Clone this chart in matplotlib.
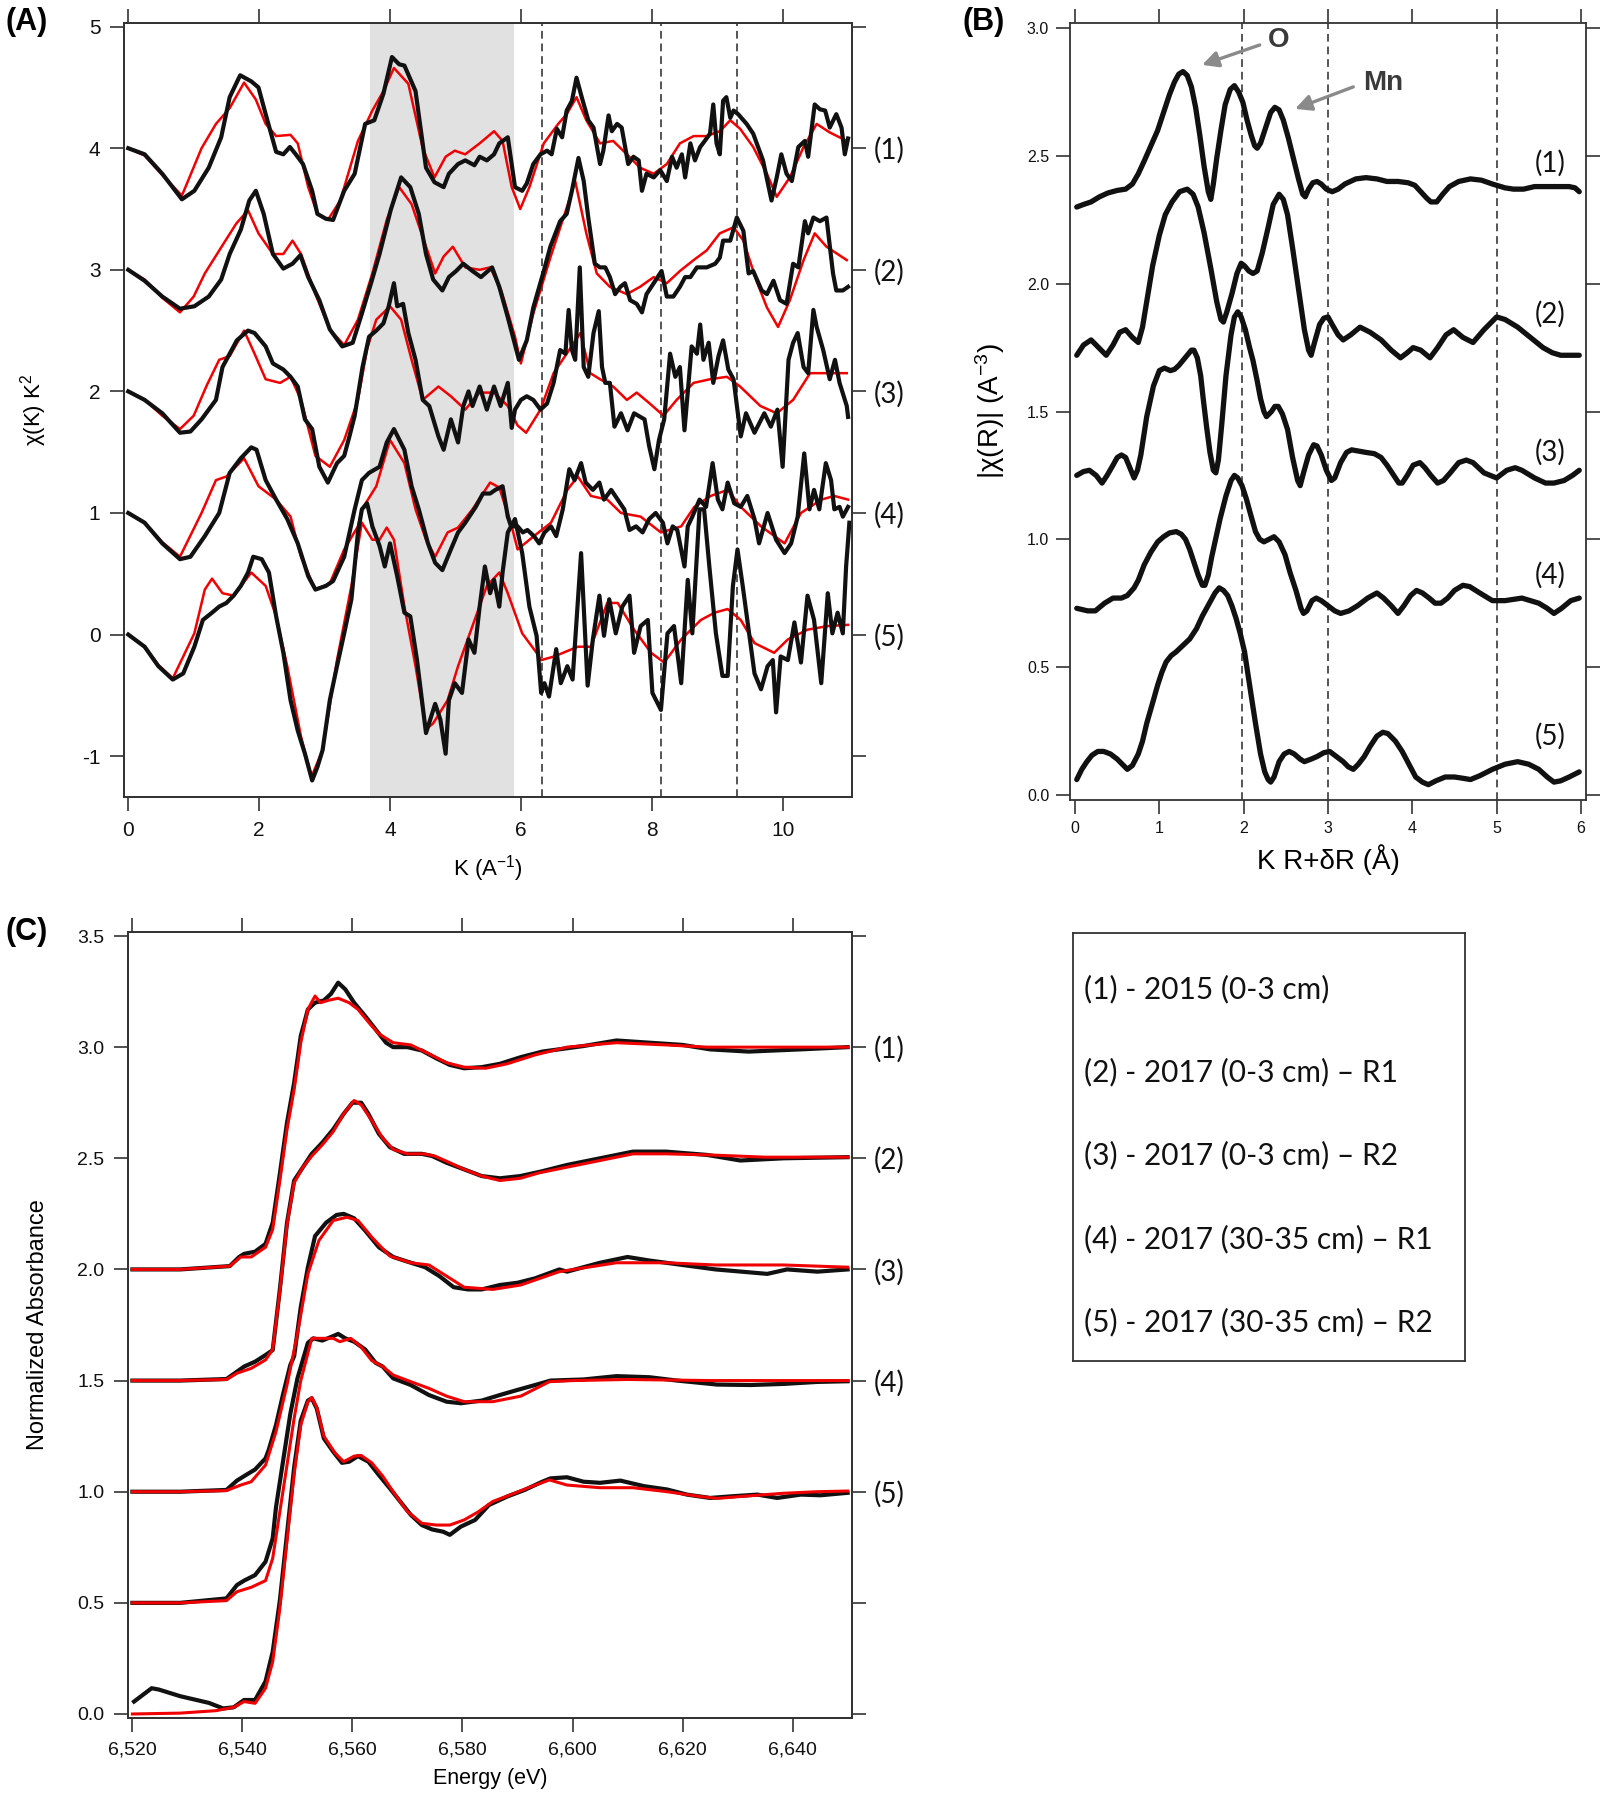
import numpy as np
import matplotlib
matplotlib.use("Agg")
import matplotlib.pyplot as plt

plt.rcParams['font.family'] = ['Liberation Sans', 'DejaVu Sans']
plt.rcParams['mathtext.fontset'] = 'custom'
plt.rcParams['mathtext.rm'] = 'Liberation Sans'
plt.rcParams['mathtext.it'] = 'Liberation Sans:italic'
plt.rcParams['mathtext.bf'] = 'Liberation Sans:bold'

# ---------------- Panel A : chi(k) k^2 (black = data, red = fit) ----------------
A1_black = [(0,4.0),(0.25,3.95),(0.52,3.79),(0.82,3.58),(1.01,3.65),(1.23,3.84),(1.42,4.09),(1.55,4.42),(1.71,4.6),(1.88,4.55),(1.99,4.5),(2.1,4.28),(2.26,3.97),(2.37,3.95),(2.47,4.01),(2.56,3.95),(2.67,3.87),(2.81,3.65),(2.89,3.46),(3.02,3.42),(3.13,3.41),(3.3,3.65),(3.46,3.79),(3.62,4.2),(3.76,4.23),(3.9,4.45),(4.03,4.75),(4.14,4.69),(4.22,4.68),(4.39,4.47),(4.55,3.84),(4.68,3.72),(4.82,3.68),(4.9,3.79),(5.04,3.87),(5.15,3.9),(5.29,3.86),(5.37,3.93),(5.48,3.9),(5.59,3.95),(5.67,4.04),(5.8,4.09),(5.91,3.68),(6.02,3.65),(6.09,3.71),(6.19,3.87),(6.3,3.95),(6.4,3.98),(6.47,3.95),(6.55,4.16),(6.63,4.09),(6.7,4.31),(6.78,4.39),(6.85,4.58),(6.93,4.42),(7.03,4.23),(7.11,4.17),(7.21,3.87),(7.26,3.98),(7.34,4.27),(7.39,4.14),(7.47,4.2),(7.54,4.17),(7.64,3.87),(7.72,3.93),(7.8,3.9),(7.85,3.65),(7.92,3.79),(8.03,3.76),(8.13,3.82),(8.23,3.73),(8.31,3.93),(8.38,3.84),(8.46,3.95),(8.51,3.76),(8.59,4.04),(8.66,3.9),(8.74,4.01),(8.81,4.06),(8.89,4.12),(8.94,4.36),(8.99,4.04),(9.04,3.95),(9.09,4.39),(9.14,4.42),(9.2,4.25),(9.25,4.31),(9.32,4.28),(9.45,4.2),(9.55,4.12),(9.7,3.9),(9.83,3.57),(9.91,3.76),(9.98,3.95),(10.06,3.79),(10.14,3.73),(10.24,4.01),(10.34,4.06),(10.39,3.93),(10.49,4.36),(10.57,4.32),(10.65,4.31),(10.72,4.17),(10.82,4.28),(10.9,4.17),(10.95,3.95),(11.0,4.08)]
A1_red = [(0,4.0),(0.25,3.94),(0.52,3.78),(0.82,3.61),(1.12,4.0),(1.34,4.2),(1.55,4.33),(1.77,4.54),(1.95,4.4),(2.1,4.2),(2.26,4.1),(2.48,4.11),(2.59,4.04),(2.75,3.68),(2.89,3.46),(3.05,3.41),(3.24,3.57),(3.51,4.06),(3.73,4.31),(3.9,4.47),(4.06,4.66),(4.28,4.53),(4.5,4.0),(4.68,3.76),(4.85,3.93),(4.99,3.98),(5.15,3.95),(5.37,4.04),(5.59,4.14),(5.72,4.06),(5.86,3.68),(5.99,3.5),(6.13,3.68),(6.35,4.04),(6.57,4.2),(6.7,4.28),(6.85,4.42),(7.0,4.23),(7.21,4.04),(7.41,4.06),(7.62,3.95),(7.82,3.84),(8.03,3.79),(8.23,3.87),(8.43,4.04),(8.64,4.1),(8.84,4.1),(9.04,4.14),(9.2,4.23),(9.35,4.16),(9.55,4.01),(9.76,3.79),(9.91,3.6),(10.11,3.76),(10.32,4.01),(10.52,4.2),(10.72,4.13),(10.98,4.06)]

A2_black = [(0,3.0),(0.25,2.91),(0.52,2.78),(0.79,2.68),(1.01,2.7),(1.23,2.78),(1.42,2.92),(1.55,3.13),(1.72,3.33),(1.85,3.57),(1.95,3.65),(2.07,3.46),(2.21,3.13),(2.37,3.01),(2.51,3.05),(2.63,3.12),(2.75,2.94),(2.92,2.75),(3.08,2.51),(3.27,2.37),(3.43,2.4),(3.57,2.64),(3.71,2.89),(3.84,3.13),(4.01,3.49),(4.17,3.76),(4.31,3.68),(4.44,3.46),(4.55,3.13),(4.66,2.92),(4.8,2.83),(4.9,2.94),(5.01,2.99),(5.12,3.05),(5.26,2.99),(5.39,2.94),(5.56,3.02),(5.67,2.86),(5.8,2.61),(5.97,2.26),(6.09,2.42),(6.19,2.69),(6.35,2.99),(6.45,3.19),(6.6,3.4),(6.7,3.46),(6.78,3.65),(6.88,3.92),(6.96,3.73),(7.03,3.43),(7.13,3.05),(7.21,3.02),(7.29,3.02),(7.36,2.94),(7.44,2.8),(7.52,2.86),(7.59,2.89),(7.67,2.75),(7.77,2.72),(7.85,2.65),(7.92,2.8),(8.03,2.89),(8.15,2.99),(8.23,2.78),(8.33,2.78),(8.43,2.86),(8.51,2.94),(8.59,2.94),(8.69,3.02),(8.84,3.02),(8.97,3.05),(9.04,3.1),(9.09,3.24),(9.2,3.24),(9.3,3.43),(9.4,3.32),(9.48,2.97),(9.55,2.99),(9.68,2.83),(9.76,2.8),(9.86,2.91),(9.96,2.75),(10.06,2.72),(10.16,3.05),(10.24,3.02),(10.34,3.4),(10.39,3.3),(10.47,3.43),(10.57,3.4),(10.67,3.43),(10.77,2.97),(10.82,2.83),(10.92,2.83),(11.0,2.86)]
A2_red = [(0,3.0),(0.25,2.92),(0.52,2.77),(0.79,2.65),(1.0,2.78),(1.17,2.97),(1.45,3.21),(1.65,3.38),(1.83,3.49),(1.99,3.3),(2.21,3.13),(2.37,3.13),(2.51,3.24),(2.64,3.13),(2.86,2.8),(3.08,2.51),(3.3,2.38),(3.51,2.59),(3.73,2.97),(3.95,3.41),(4.14,3.68),(4.33,3.54),(4.5,3.27),(4.69,2.97),(4.82,3.11),(4.96,3.19),(5.15,3.02),(5.37,3.0),(5.53,3.02),(5.7,2.83),(5.91,2.45),(6.0,2.23),(6.19,2.64),(6.45,3.1),(6.7,3.51),(6.83,3.73),(7.0,3.3),(7.16,2.97),(7.36,2.86),(7.62,2.8),(7.82,2.86),(8.03,2.94),(8.23,2.89),(8.43,2.99),(8.64,3.08),(8.84,3.16),(9.04,3.3),(9.25,3.35),(9.4,3.24),(9.6,2.91),(9.76,2.69),(9.93,2.53),(10.11,2.75),(10.32,3.08),(10.49,3.3),(10.67,3.19),(10.98,3.08)]

A3_black = [(0,2.0),(0.25,1.93),(0.52,1.82),(0.79,1.66),(0.95,1.67),(1.12,1.77),(1.34,1.93),(1.44,2.2),(1.66,2.42),(1.83,2.5),(1.93,2.48),(2.1,2.37),(2.21,2.23),(2.37,2.18),(2.48,2.12),(2.59,2.04),(2.7,1.77),(2.81,1.69),(2.92,1.38),(3.05,1.25),(3.19,1.41),(3.3,1.47),(3.38,1.63),(3.46,1.8),(3.58,2.2),(3.68,2.45),(3.79,2.5),(3.9,2.56),(3.98,2.7),(4.06,2.89),(4.11,2.7),(4.2,2.72),(4.28,2.48),(4.39,2.26),(4.5,1.93),(4.6,1.88),(4.74,1.63),(4.82,1.52),(4.93,1.77),(5.04,1.58),(5.12,1.88),(5.2,2.0),(5.26,1.88),(5.37,2.04),(5.48,1.85),(5.59,2.04),(5.69,1.88),(5.8,2.07),(5.86,1.7),(5.91,1.85),(6.0,1.93),(6.09,1.96),(6.19,1.93),(6.3,1.85),(6.4,1.9),(6.5,2.07),(6.6,2.34),(6.68,2.31),(6.73,2.67),(6.78,2.34),(6.83,2.26),(6.9,3.02),(6.96,2.2),(7.03,2.12),(7.11,2.48),(7.19,2.66),(7.24,2.2),(7.29,2.07),(7.36,2.07),(7.43,1.71),(7.53,1.82),(7.63,1.68),(7.73,1.82),(7.89,1.77),(7.96,1.55),(8.04,1.36),(8.11,1.6),(8.19,1.77),(8.28,2.31),(8.36,2.12),(8.43,2.2),(8.5,1.68),(8.61,2.37),(8.69,2.31),(8.74,2.55),(8.79,2.26),(8.87,2.4),(8.94,2.07),(9.02,2.29),(9.09,2.42),(9.17,2.18),(9.25,2.1),(9.36,1.63),(9.44,1.82),(9.57,1.66),(9.72,1.82),(9.82,1.71),(9.92,1.85),(10.0,1.38),(10.09,2.26),(10.16,2.4),(10.23,2.48),(10.32,2.2),(10.39,2.15),(10.47,2.67),(10.52,2.53),(10.62,2.34),(10.72,2.1),(10.8,2.26),(10.87,2.07),(10.98,1.88),(11.0,1.79)]
A3_red = [(0,2.0),(0.25,1.93),(0.52,1.8),(0.79,1.69),(1.0,1.8),(1.2,2.05),(1.39,2.26),(1.55,2.29),(1.77,2.5),(1.93,2.31),(2.1,2.1),(2.32,2.07),(2.48,2.12),(2.64,1.93),(2.86,1.47),(3.08,1.38),(3.3,1.6),(3.51,1.93),(3.65,2.35),(3.79,2.59),(4.0,2.7),(4.17,2.59),(4.33,2.26),(4.5,1.93),(4.74,2.04),(4.93,1.96),(5.15,1.85),(5.37,1.99),(5.59,1.99),(5.8,1.88),(5.95,1.72),(6.08,1.66),(6.3,1.85),(6.5,2.15),(6.7,2.31),(6.91,2.48),(7.06,2.15),(7.21,2.1),(7.41,2.04),(7.62,1.93),(7.77,1.99),(7.97,1.9),(8.18,1.8),(8.38,1.93),(8.64,2.07),(8.89,2.1),(9.15,2.12),(9.35,2.04),(9.66,1.88),(9.91,1.82),(10.16,1.93),(10.42,2.15),(10.62,2.15),(10.98,2.15)]

A4_black = [(0,1.0),(0.25,0.92),(0.52,0.75),(0.79,0.62),(0.95,0.64),(1.17,0.81),(1.39,1.0),(1.55,1.33),(1.72,1.45),(1.88,1.54),(1.96,1.52),(2.1,1.27),(2.26,1.11),(2.43,0.95),(2.59,0.75),(2.75,0.48),(2.86,0.37),(3.02,0.4),(3.13,0.44),(3.3,0.64),(3.46,1.03),(3.57,1.27),(3.68,1.33),(3.84,1.38),(3.95,1.58),(4.06,1.69),(4.22,1.52),(4.33,1.22),(4.44,1.03),(4.58,0.75),(4.69,0.59),(4.8,0.53),(4.93,0.7),(5.04,0.84),(5.15,0.92),(5.31,1.05),(5.42,1.16),(5.53,1.16),(5.61,1.19),(5.72,1.22),(5.8,0.97),(5.85,0.89),(5.95,0.89),(6.03,0.84),(6.1,0.86),(6.2,0.81),(6.28,0.75),(6.36,0.84),(6.46,0.89),(6.54,0.81),(6.64,1.03),(6.74,1.36),(6.82,1.27),(6.92,1.41),(6.99,1.25),(7.1,1.19),(7.2,1.25),(7.27,1.11),(7.38,1.19),(7.48,1.11),(7.58,1.03),(7.66,0.86),(7.76,0.89),(7.86,0.84),(7.96,0.95),(8.06,1.0),(8.17,0.92),(8.24,0.75),(8.32,0.89),(8.39,0.86),(8.5,0.56),(8.55,0.89),(8.62,0.97),(8.73,1.11),(8.83,1.05),(8.93,1.41),(9.01,1.11),(9.08,1.03),(9.16,1.25),(9.26,1.08),(9.36,1.05),(9.46,1.14),(9.57,0.95),(9.64,0.75),(9.77,1.0),(9.9,0.78),(10.03,0.67),(10.13,0.75),(10.23,0.97),(10.33,1.49),(10.41,1.03),(10.48,1.19),(10.56,1.03),(10.66,1.41),(10.74,1.27),(10.79,1.03),(10.87,1.05),(10.92,0.97),(11.0,1.05)]
A4_red = [(0,1.0),(0.25,0.92),(0.52,0.76),(0.79,0.64),(1.12,1.0),(1.34,1.27),(1.5,1.3),(1.77,1.45),(1.99,1.22),(2.26,1.11),(2.48,0.97),(2.64,0.64),(2.86,0.37),(3.08,0.42),(3.3,0.7),(3.51,0.89),(3.57,1.03),(3.79,1.22),(4.0,1.6),(4.22,1.41),(4.39,1.03),(4.55,0.78),(4.69,0.64),(4.88,0.84),(5.04,0.88),(5.26,1.03),(5.53,1.25),(5.67,1.21),(5.86,0.89),(5.95,0.7),(6.2,0.81),(6.46,0.92),(6.71,1.19),(6.87,1.3),(7.07,1.14),(7.32,1.11),(7.53,1.0),(7.83,0.97),(8.14,0.84),(8.45,0.89),(8.65,1.05),(8.9,1.14),(9.16,1.19),(9.36,1.05),(9.67,0.89),(10.03,0.75),(10.28,1.0),(10.59,1.11),(10.79,1.14),(11.0,1.11)]

A5_black = [(0,0.0),(0.25,-0.1),(0.46,-0.26),(0.68,-0.37),(0.84,-0.32),(1.01,-0.1),(1.14,0.12),(1.28,0.18),(1.39,0.23),(1.5,0.26),(1.61,0.32),(1.72,0.4),(1.83,0.51),(1.91,0.64),(2.04,0.62),(2.15,0.51),(2.26,0.15),(2.37,-0.15),(2.48,-0.54),(2.59,-0.79),(2.7,-0.98),(2.81,-1.2),(2.89,-1.09),(2.97,-0.95),(3.08,-0.54),(3.19,-0.26),(3.3,0.01),(3.41,0.29),(3.51,0.84),(3.57,1.03),(3.65,1.08),(3.73,0.89),(3.84,0.73),(3.92,0.56),(4.0,0.75),(4.11,0.48),(4.22,0.18),(4.31,0.15),(4.41,-0.2),(4.55,-0.81),(4.69,-0.57),(4.77,-0.7),(4.85,-0.98),(4.9,-0.54),(4.99,-0.4),(5.1,-0.48),(5.2,-0.04),(5.29,-0.15),(5.37,0.23),(5.45,0.56),(5.53,0.34),(5.59,0.45),(5.67,0.23),(5.72,0.51),(5.8,0.84),(5.91,0.95),(6.02,0.67),(6.13,0.23),(6.24,-0.01),(6.31,-0.48),(6.36,-0.4),(6.43,-0.51),(6.54,-0.12),(6.61,-0.4),(6.71,-0.26),(6.79,-0.37),(6.92,0.67),(7.02,-0.42),(7.1,-0.04),(7.2,0.32),(7.27,-0.01),(7.35,0.29),(7.45,0.01),(7.55,0.23),(7.66,0.32),(7.73,-0.15),(7.83,0.07),(7.94,0.12),(8.01,-0.48),(8.14,-0.62),(8.24,0.01),(8.34,0.07),(8.45,-0.4),(8.55,0.45),(8.62,0.01),(8.73,1.03),(8.8,1.03),(8.88,0.56),(8.98,0.01),(9.08,-0.34),(9.16,-0.34),(9.24,0.4),(9.31,0.7),(9.39,0.4),(9.46,0.12),(9.57,-0.32),(9.67,-0.45),(9.77,-0.26),(9.85,-0.21),(9.9,-0.64),(9.97,-0.18),(10.08,-0.21),(10.18,0.1),(10.28,-0.23),(10.38,0.32),(10.48,0.12),(10.59,-0.4),(10.69,0.34),(10.76,0.01),(10.84,0.18),(10.92,0.01),(10.97,0.56),(11.02,0.92)]
A5_red = [(0,0.0),(0.25,-0.1),(0.46,-0.25),(0.68,-0.36),(1.01,0.01),(1.17,0.37),(1.28,0.46),(1.44,0.34),(1.61,0.32),(1.88,0.51),(2.1,0.4),(2.26,0.15),(2.43,-0.26),(2.64,-0.84),(2.8,-1.17),(2.97,-0.95),(3.19,-0.21),(3.41,0.4),(3.57,0.92),(3.73,0.78),(3.84,0.78),(3.95,0.88),(4.06,0.78),(4.22,0.23),(4.39,-0.26),(4.55,-0.78),(4.66,-0.73),(4.88,-0.54),(5.04,-0.26),(5.26,0.07),(5.48,0.4),(5.67,0.51),(5.8,0.34),(6.02,0.01),(6.24,-0.15),(6.31,-0.21),(6.51,-0.18),(6.87,-0.1),(7.07,-0.1),(7.32,0.26),(7.48,0.26),(7.73,0.04),(7.99,-0.15),(8.19,-0.23),(8.45,-0.04),(8.75,0.12),(8.96,0.18),(9.16,0.21),(9.36,0.12),(9.57,-0.07),(9.87,-0.15),(10.08,-0.04),(10.38,0.04),(10.69,0.07),(11.0,0.08)]

A_black = [A1_black, A2_black, A3_black, A4_black, A5_black]
A_red = [A1_red, A2_red, A3_red, A4_red, A5_red]
A_shade = (3.7, 5.9)
A_dashed = [6.32, 8.14, 9.31]
A_yticks = [5, 4, 3, 2, 1, 0, -1]
A_right_labels = ['', '(1)', '(2)', '(3)', '(4)', '(5)', '']

# ---------------- Panel B : |chi(R)| ----------------
B1 = [(0.02,2.30),(0.1,2.31),(0.19,2.32),(0.29,2.34),(0.39,2.355),(0.5,2.365),(0.6,2.37),(0.68,2.39),(0.75,2.43),(0.82,2.48),(0.9,2.54),(0.98,2.6),(1.05,2.67),(1.12,2.74),(1.18,2.79),(1.23,2.82),(1.28,2.83),(1.33,2.815),(1.38,2.77),(1.43,2.69),(1.48,2.58),(1.53,2.46),(1.58,2.36),(1.61,2.33),(1.64,2.39),(1.68,2.49),(1.73,2.6),(1.78,2.7),(1.84,2.76),(1.89,2.775),(1.94,2.75),(1.99,2.71),(2.04,2.64),(2.09,2.58),(2.13,2.54),(2.16,2.53),(2.2,2.55),(2.27,2.62),(2.32,2.67),(2.37,2.69),(2.42,2.68),(2.47,2.64),(2.53,2.57),(2.59,2.49),(2.65,2.41),(2.7,2.35),(2.73,2.34),(2.77,2.37),(2.82,2.395),(2.87,2.40),(2.92,2.39),(2.98,2.37),(3.05,2.36),(3.12,2.37),(3.2,2.39),(3.33,2.41),(3.45,2.415),(3.58,2.41),(3.7,2.40),(3.83,2.40),(3.95,2.395),(4.03,2.385),(4.1,2.36),(4.17,2.335),(4.22,2.32),(4.29,2.32),(4.36,2.35),(4.44,2.38),(4.55,2.40),(4.69,2.41),(4.82,2.405),(4.95,2.39),(5.1,2.375),(5.2,2.37),(5.32,2.37),(5.45,2.38),(5.6,2.38),(5.71,2.38),(5.86,2.38),(5.93,2.375),(5.98,2.36)]
B2 = [(0.02,1.72),(0.1,1.76),(0.19,1.78),(0.28,1.75),(0.37,1.72),(0.45,1.76),(0.53,1.81),(0.6,1.82),(0.68,1.79),(0.75,1.77),(0.8,1.83),(0.85,1.93),(0.92,2.07),(1.0,2.19),(1.07,2.27),(1.15,2.32),(1.24,2.36),(1.33,2.37),(1.4,2.35),(1.46,2.3),(1.53,2.2),(1.61,2.06),(1.68,1.93),(1.73,1.86),(1.76,1.85),(1.8,1.89),(1.86,1.96),(1.92,2.04),(1.97,2.08),(2.01,2.07),(2.06,2.05),(2.11,2.04),(2.16,2.05),(2.22,2.12),(2.29,2.22),(2.35,2.31),(2.42,2.35),(2.47,2.33),(2.52,2.27),(2.58,2.14),(2.65,1.98),(2.72,1.82),(2.77,1.74),(2.8,1.72),(2.84,1.77),(2.9,1.84),(2.95,1.865),(3.0,1.87),(3.05,1.84),(3.12,1.8),(3.18,1.78),(3.27,1.8),(3.38,1.83),(3.5,1.81),(3.63,1.78),(3.75,1.74),(3.86,1.71),(3.94,1.73),(4.01,1.75),(4.1,1.74),(4.21,1.71),(4.3,1.75),(4.4,1.8),(4.49,1.82),(4.6,1.79),(4.72,1.77),(4.85,1.82),(5.0,1.87),(5.1,1.86),(5.25,1.83),(5.4,1.79),(5.55,1.75),(5.66,1.73),(5.76,1.72),(5.98,1.72)]
B3 = [(0.02,1.25),(0.1,1.265),(0.17,1.27),(0.25,1.25),(0.32,1.22),(0.38,1.25),(0.45,1.29),(0.5,1.32),(0.55,1.33),(0.6,1.32),(0.65,1.28),(0.7,1.24),(0.74,1.27),(0.78,1.33),(0.85,1.48),(0.93,1.6),(1.0,1.66),(1.06,1.67),(1.13,1.66),(1.18,1.665),(1.23,1.68),(1.33,1.72),(1.38,1.74),(1.41,1.74),(1.45,1.71),(1.49,1.64),(1.52,1.55),(1.56,1.44),(1.6,1.34),(1.64,1.27),(1.67,1.26),(1.7,1.31),(1.74,1.45),(1.79,1.64),(1.85,1.8),(1.89,1.87),(1.93,1.89),(1.97,1.87),(2.02,1.82),(2.07,1.75),(2.11,1.7),(2.16,1.62),(2.2,1.55),(2.24,1.5),(2.27,1.48),(2.33,1.5),(2.37,1.52),(2.41,1.52),(2.46,1.49),(2.52,1.43),(2.58,1.32),(2.64,1.23),(2.67,1.21),(2.71,1.26),(2.77,1.33),(2.83,1.37),(2.87,1.365),(2.92,1.33),(2.98,1.27),(3.04,1.23),(3.08,1.24),(3.15,1.3),(3.22,1.34),(3.28,1.35),(3.45,1.34),(3.55,1.335),(3.63,1.32),(3.7,1.29),(3.78,1.25),(3.84,1.22),(3.88,1.22),(3.94,1.25),(4.01,1.29),(4.09,1.3),(4.15,1.28),(4.22,1.25),(4.3,1.22),(4.37,1.23),(4.45,1.26),(4.55,1.3),(4.64,1.31),(4.72,1.3),(4.85,1.26),(5.0,1.24),(5.12,1.27),(5.22,1.28),(5.3,1.27),(5.45,1.24),(5.58,1.22),(5.68,1.22),(5.8,1.23),(5.9,1.25),(5.98,1.27)]
B4 = [(0.02,0.73),(0.15,0.72),(0.24,0.72),(0.35,0.75),(0.45,0.77),(0.55,0.77),(0.62,0.78),(0.7,0.81),(0.75,0.84),(0.82,0.9),(0.9,0.95),(0.98,0.99),(1.05,1.01),(1.12,1.025),(1.2,1.03),(1.26,1.02),(1.31,1.0),(1.36,0.96),(1.41,0.91),(1.46,0.86),(1.51,0.82),(1.54,0.82),(1.58,0.86),(1.62,0.93),(1.66,0.99),(1.72,1.08),(1.79,1.17),(1.85,1.23),(1.89,1.25),(1.93,1.24),(1.98,1.21),(2.03,1.16),(2.08,1.1),(2.14,1.03),(2.19,1.0),(2.24,0.99),(2.3,1.0),(2.36,1.01),(2.42,0.99),(2.49,0.94),(2.55,0.87),(2.62,0.8),(2.68,0.73),(2.71,0.71),(2.75,0.72),(2.81,0.76),(2.86,0.77),(2.92,0.76),(3.0,0.74),(3.08,0.72),(3.15,0.71),(3.25,0.72),(3.35,0.74),(3.47,0.77),(3.58,0.79),(3.66,0.77),(3.75,0.74),(3.83,0.71),(3.9,0.74),(3.98,0.78),(4.05,0.8),(4.12,0.79),(4.2,0.77),(4.27,0.75),(4.34,0.75),(4.42,0.77),(4.5,0.8),(4.6,0.82),(4.68,0.815),(4.8,0.79),(4.95,0.76),(5.1,0.76),(5.3,0.77),(5.5,0.75),(5.6,0.73),(5.68,0.71),(5.77,0.73),(5.88,0.76),(5.98,0.77)]
B5 = [(0.02,0.06),(0.08,0.1),(0.14,0.13),(0.2,0.155),(0.27,0.17),(0.34,0.17),(0.42,0.16),(0.5,0.14),(0.56,0.12),(0.62,0.1),(0.68,0.115),(0.75,0.16),(0.8,0.21),(0.85,0.28),(0.92,0.36),(0.98,0.43),(1.03,0.48),(1.08,0.52),(1.14,0.545),(1.2,0.56),(1.28,0.585),(1.36,0.61),(1.44,0.65),(1.51,0.7),(1.56,0.73),(1.61,0.76),(1.66,0.79),(1.71,0.81),(1.76,0.8),(1.81,0.78),(1.86,0.74),(1.91,0.69),(1.96,0.63),(2.01,0.56),(2.07,0.43),(2.14,0.28),(2.2,0.16),(2.25,0.09),(2.29,0.06),(2.32,0.05),(2.36,0.07),(2.42,0.13),(2.48,0.16),(2.54,0.17),(2.6,0.16),(2.67,0.14),(2.72,0.13),(2.8,0.14),(2.87,0.15),(2.95,0.165),(3.02,0.17),(3.1,0.15),(3.18,0.13),(3.24,0.11),(3.3,0.1),(3.36,0.12),(3.43,0.15),(3.5,0.19),(3.58,0.23),(3.65,0.245),(3.71,0.24),(3.8,0.21),(3.88,0.17),(3.96,0.12),(4.04,0.07),(4.12,0.05),(4.19,0.04),(4.28,0.055),(4.39,0.07),(4.5,0.07),(4.6,0.065),(4.69,0.06),(4.8,0.075),(4.95,0.1),(5.1,0.12),(5.25,0.13),(5.38,0.12),(5.5,0.1),(5.6,0.07),(5.68,0.05),(5.76,0.055),(5.86,0.07),(5.98,0.09)]
B_curves = [B1, B2, B3, B4, B5]
B_dashed = [1.98, 3.0, 5.0]
B_label_y = [2.47, 1.88, 1.34, 0.86, 0.23]
B_labels = ['(1)', '(2)', '(3)', '(4)', '(5)']

# ---------------- Panel C : XANES ----------------
C1_black = [(6520,2.0),(6528.7,2.0),(6537.7,2.015),(6539.4,2.056),(6540.3,2.07),(6542.3,2.08),(6544.2,2.115),(6545.5,2.21),(6546.8,2.43),(6548.1,2.66),(6549.4,2.84),(6550.6,3.05),(6551.9,3.17),(6553.2,3.2),(6554.8,3.21),(6556.1,3.24),(6557.4,3.29),(6558.7,3.26),(6560.3,3.2),(6562.3,3.14),(6564.2,3.08),(6566.1,3.02),(6567.4,3.0),(6570.0,3.0),(6572.6,2.985),(6575.2,2.95),(6577.7,2.92),(6580.3,2.905),(6583.5,2.91),(6586.8,2.925),(6590.6,2.955),(6594.5,2.98),(6599,2.995),(6602,3.005),(6608,3.03),(6614,3.02),(6620,3.01),(6625,2.99),(6632,2.98),(6641.5,2.99),(6650,3.0)]
C1_red = [(6520,2.0),(6528.7,2.0),(6537.7,2.015),(6539.7,2.056),(6541.6,2.056),(6544.2,2.1),(6545.5,2.18),(6546.8,2.4),(6548.1,2.63),(6549.4,2.81),(6550.6,3.02),(6551.9,3.17),(6553.2,3.23),(6554.2,3.2),(6555.5,3.21),(6557.4,3.22),(6559.4,3.2),(6561.0,3.17),(6563.0,3.11),(6564.8,3.06),(6567.4,3.02),(6570.6,3.01),(6573.9,2.97),(6577.1,2.93),(6580.3,2.91),(6584.2,2.905),(6588.1,2.925),(6593.2,2.965),(6599,3.0),(6608,3.02),(6617,3.01),(6624.5,3.0),(6635.4,3.0),(6650,3.0)]
C2_black = [(6520,1.5),(6528.7,1.5),(6537.1,1.507),(6539.0,1.54),(6540.3,1.563),(6542.3,1.585),(6544.2,1.615),(6545.5,1.637),(6546.8,1.91),(6548.1,2.21),(6549.4,2.4),(6551.0,2.46),(6552.6,2.52),(6554.5,2.57),(6556.5,2.63),(6558.4,2.7),(6560.0,2.75),(6561.6,2.75),(6562.9,2.7),(6564.8,2.61),(6566.8,2.55),(6569.4,2.52),(6572.6,2.52),(6574.5,2.51),(6577.1,2.48),(6580.3,2.45),(6583.5,2.42),(6586.8,2.41),(6590.5,2.42),(6594.2,2.44),(6599,2.47),(6605,2.5),(6611,2.53),(6617,2.53),(6624.5,2.515),(6630.5,2.49),(6638.4,2.5),(6650,2.505)]
C2_red = [(6520,1.5),(6528.7,1.5),(6537.1,1.505),(6539.0,1.533),(6541.6,1.555),(6544.2,1.593),(6545.5,1.64),(6546.8,1.9),(6548.1,2.2),(6549.4,2.39),(6551.0,2.46),(6552.6,2.51),(6554.5,2.56),(6556.5,2.62),(6558.4,2.7),(6560.3,2.76),(6561.6,2.74),(6563.5,2.67),(6565.5,2.59),(6567.4,2.54),(6570,2.52),(6573,2.52),(6575,2.51),(6577.7,2.48),(6580.3,2.45),(6583.5,2.42),(6586.8,2.40),(6590.5,2.41),(6594,2.435),(6599,2.46),(6605,2.49),(6611,2.52),(6617,2.52),(6625,2.515),(6635,2.505),(6650,2.505)]
C3_black = [(6520,1.0),(6528.7,1.0),(6537.1,1.008),(6539.0,1.05),(6540.3,1.07),(6542.3,1.1),(6544.2,1.15),(6544.8,1.19),(6546.1,1.3),(6547.4,1.44),(6548.7,1.57),(6549.4,1.61),(6550.6,1.83),(6551.9,2.01),(6553.2,2.15),(6555.2,2.21),(6557.1,2.245),(6558.4,2.25),(6560.3,2.23),(6562.3,2.175),(6564.8,2.1),(6567.4,2.056),(6570.0,2.035),(6573.2,2.01),(6575.8,1.97),(6578.4,1.92),(6581.0,1.91),(6583.5,1.91),(6586.8,1.93),(6590.0,1.94),(6593.2,1.96),(6597.6,2.0),(6599,1.99),(6605,2.03),(6610,2.056),(6614,2.04),(6620,2.02),(6626,2.0),(6635.4,1.98),(6639,2.0),(6644.5,1.99),(6650,2.0)]
C3_red = [(6520,1.0),(6528.7,1.0),(6537.1,1.005),(6539.7,1.03),(6541.6,1.045),(6544.2,1.12),(6546.1,1.27),(6548.1,1.48),(6550.0,1.71),(6551.9,1.98),(6553.9,2.13),(6556.5,2.22),(6559.0,2.235),(6561.0,2.22),(6563.5,2.145),(6566.8,2.06),(6570.6,2.03),(6573.9,2.02),(6577.1,1.97),(6580.3,1.92),(6585.5,1.91),(6590.6,1.93),(6597.6,1.99),(6608,2.03),(6617,2.03),(6626,2.02),(6638.4,2.02),(6650,2.01)]
C4_black = [(6520,0.5),(6528.7,0.5),(6537.1,0.52),(6539.0,0.58),(6540.3,0.6),(6542.3,0.625),(6544.2,0.685),(6545.5,0.79),(6546.1,0.93),(6547.4,1.14),(6548.7,1.35),(6550.0,1.51),(6551.9,1.67),(6552.9,1.69),(6554.5,1.68),(6556.5,1.7),(6557.4,1.71),(6558.7,1.69),(6560.3,1.675),(6562.3,1.64),(6564.2,1.58),(6565.5,1.563),(6567.4,1.51),(6570.6,1.48),(6573.9,1.435),(6577.1,1.405),(6579.7,1.398),(6583.5,1.41),(6586.8,1.435),(6590.0,1.458),(6593.2,1.48),(6596,1.5),(6602,1.505),(6608,1.52),(6614,1.515),(6619,1.5),(6626.3,1.482),(6632.4,1.48),(6638.4,1.485),(6644.5,1.494),(6650,1.497)]
C4_red = [(6520,0.5),(6528.7,0.5),(6537.1,0.51),(6539.0,0.55),(6541.6,0.57),(6544.2,0.6),(6545.5,0.7),(6546.8,0.91),(6548.1,1.12),(6549.4,1.33),(6550.6,1.5),(6552.6,1.69),(6555,1.69),(6556.5,1.69),(6557.7,1.675),(6559.7,1.69),(6561.6,1.65),(6563.5,1.59),(6565.5,1.563),(6567.4,1.525),(6570.6,1.495),(6573.9,1.465),(6577.1,1.43),(6580.3,1.405),(6585.5,1.405),(6590.6,1.43),(6595.8,1.495),(6600,1.5),(6610,1.505),(6625,1.5),(6650,1.5)]
C5_black = [(6520.3,0.056),(6523.5,0.116),(6524.8,0.11),(6528.7,0.08),(6533.9,0.05),(6536.5,0.025),(6538.4,0.03),(6540.3,0.063),(6542.3,0.063),(6544.2,0.147),(6545.5,0.28),(6546.8,0.51),(6548.1,0.81),(6549.4,1.11),(6550.6,1.32),(6551.9,1.41),(6552.6,1.42),(6553.5,1.375),(6554.8,1.24),(6556.5,1.18),(6558.1,1.13),(6559.4,1.135),(6561.0,1.16),(6562.9,1.135),(6564.8,1.075),(6566.8,1.015),(6568.7,0.955),(6570.6,0.896),(6572.6,0.85),(6574.5,0.83),(6576.5,0.82),(6577.7,0.806),(6579.7,0.843),(6582.3,0.873),(6584.8,0.94),(6588.1,0.978),(6591.3,1.008),(6594.5,1.045),(6596,1.06),(6599,1.065),(6602,1.045),(6605,1.04),(6608.7,1.05),(6613,1.025),(6617.2,1.01),(6620.8,0.987),(6625,0.972),(6629.3,0.98),(6633.6,0.987),(6637.2,0.972),(6641.5,0.987),(6645.1,0.984),(6650,0.995)]
C5_red = [(6520,0.0),(6528.7,0.004),(6535.2,0.015),(6538.4,0.03),(6540.3,0.056),(6542.3,0.048),(6544.2,0.116),(6545.5,0.235),(6546.8,0.475),(6548.1,0.78),(6549.4,1.08),(6550.6,1.3),(6551.9,1.405),(6552.6,1.424),(6553.5,1.38),(6554.8,1.25),(6556.8,1.175),(6558.4,1.135),(6560.3,1.16),(6561.6,1.163),(6563.5,1.13),(6565.5,1.07),(6567.4,1.0),(6570.0,0.91),(6572.6,0.858),(6575.2,0.85),(6577.7,0.85),(6580.3,0.873),(6582.9,0.91),(6585.5,0.956),(6588.7,0.986),(6592.6,1.024),(6595.8,1.053),(6599,1.03),(6605,1.018),(6611,1.018),(6617.2,1.0),(6623.3,0.978),(6626.3,0.97),(6632.4,0.982),(6638.4,0.993),(6644.5,1.0),(6650,1.003)]
C_black = [C1_black, C2_black, C3_black, C4_black, C5_black]
C_red = [C1_red, C2_red, C3_red, C4_red, C5_red]
C_xticks = [6520, 6540, 6560, 6580, 6600, 6620, 6640]
C_yticks = [3.5, 3.0, 2.5, 2.0, 1.5, 1.0, 0.5, 0.0]
C_right_labels = ['', '(1)', '(2)', '(3)', '(4)', '(5)', '', '']

legend_lines = ['(1) - 2015 (0-3 cm)',
                '(2) - 2017 (0-3 cm) \u2013 R1',
                '(3) - 2017 (0-3 cm) \u2013 R2',
                '(4) - 2017 (30-35 cm) \u2013 R1',
                '(5) - 2017 (30-35 cm) \u2013 R2']

# ---------------- figure ----------------
W, H = 1602, 1800
fig = plt.figure(figsize=(W/100, H/100), dpi=100)
RED = '#f00000'
BLK = '#111111'
SP = '#333333'
LBLFONT = ['Lato', 'DejaVu Sans']

def box(l, t, r, b):
    return [l/W, 1-b/H, (r-l)/W, (b-t)/H]

def style(ax, tlen=10, lsize=15):
    for s in ax.spines.values():
        s.set_color(SP)
        s.set_linewidth(1.3)
    ax.tick_params(axis='both', direction='out', length=tlen, width=1.2,
                   colors=SP, labelcolor='#111111', labelsize=lsize)

def xy(pairs):
    a = np.array(pairs, dtype=float)
    return a[:, 0], a[:, 1]

# Panel A
axA = fig.add_axes(box(124, 23, 852, 797))
axA.axvspan(*A_shade, color='#e1e1e1', zorder=0, lw=0)
for xv in A_dashed:
    axA.axvline(xv, color='#555555', ls=(0, (4, 2.5)), lw=1.4, zorder=1)
for p in A_red:
    x, y = xy(p)
    axA.plot(x, y, color=RED, lw=1.8, zorder=2)
for p in A_black:
    x, y = xy(p)
    axA.plot(x, y, color=BLK, lw=3.0, zorder=3, solid_joinstyle='round')
axA.set_xlim(-0.065, 11.06)
axA.set_ylim(-1.336, 5.03)
axA.set_xticks([0, 2, 4, 6, 8, 10])
axA.set_yticks(A_yticks)
axA.set_yticklabels(['5', '4', '3', '2', '1', '0', '-1'])
style(axA, lsize=15)
axAr = axA.twinx()
axAr.set_ylim(axA.get_ylim())
axAr.set_yticks(A_yticks)
axAr.set_yticklabels(A_right_labels, fontsize=20, family=LBLFONT)
style(axAr)
axAr.tick_params(axis='y', labelsize=20, pad=6)
axA.tick_params(axis='x', top=True, labeltop=False, pad=7)
axA.tick_params(axis='y', pad=7)
axA.set_xlabel('K (A$^{-1}$)', fontsize=16, labelpad=10)
axA.set_ylabel('\u03c7(K) K$^{2}$', fontsize=16, labelpad=24)

# Panel B
axB = fig.add_axes(box(1070, 23, 1586, 800))
for xv in B_dashed:
    axB.axvline(xv, color='#555555', ls=(0, (4, 2.5)), lw=1.4, zorder=1)
for p in B_curves:
    x, y = xy(p)
    axB.plot(x, y, color=BLK, lw=3.8, zorder=3, solid_joinstyle='round', solid_capstyle='round')
axB.set_xlim(-0.06, 6.06)
axB.set_ylim(-0.02, 3.02)
axB.set_xticks(range(0, 7))
axB.set_yticks([0, 0.5, 1.0, 1.5, 2.0, 2.5, 3.0])
axB.set_yticklabels(['0.0', '0.5', '1.0', '1.5', '2.0', '2.5', '3.0'])
style(axB, lsize=11.5)
axB.tick_params(axis='both', top=True, right=True, labeltop=False, labelright=False, pad=5)
for ly, lt in zip(B_label_y, B_labels):
    axB.text(5.64, ly, lt, fontsize=20, family=LBLFONT, ha='center', va='center', color='#111111')
axB.annotate('', xy=(1.506, 2.856), xytext=(2.19, 2.934),
             arrowprops=dict(arrowstyle='-|>', color='#8a8a8a', lw=2.4, mutation_scale=24, shrinkA=0, shrinkB=0))
axB.text(2.41, 2.953, 'O', fontsize=20, fontweight='bold', color='#3a3a3a', ha='center', va='center')
axB.annotate('', xy=(2.61, 2.684), xytext=(3.30, 2.77),
             arrowprops=dict(arrowstyle='-|>', color='#8a8a8a', lw=2.4, mutation_scale=24, shrinkA=0, shrinkB=0))
axB.text(3.65, 2.785, 'Mn', fontsize=20, fontweight='bold', color='#3a3a3a', ha='center', va='center')
axB.set_xlabel('K R+\u03b4R (\u00c5)', fontsize=20, labelpad=6)
axB.set_ylabel('|\u03c7(R)| (A$^{-3}$)', fontsize=20, labelpad=14)

# Panel C
axC = fig.add_axes(box(128, 932, 852, 1718))
for p in C_black:
    x, y = xy(p)
    axC.plot(x, y, color=BLK, lw=3.0, zorder=2, solid_joinstyle='round')
for p in C_red:
    x, y = xy(p)
    axC.plot(x, y, color=RED, lw=2.2, zorder=3)
axC.set_xlim(6519.2, 6650.8)
axC.set_ylim(-0.018, 3.518)
axC.set_xticks(C_xticks)
axC.set_xticklabels(['{:,}'.format(v) for v in C_xticks])
axC.set_yticks(C_yticks)
axC.set_yticklabels(['{:.1f}'.format(v) for v in C_yticks])
style(axC, lsize=14)
axCr = axC.twinx()
axCr.set_ylim(axC.get_ylim())
axCr.set_yticks(C_yticks)
axCr.set_yticklabels(C_right_labels, fontsize=20, family=LBLFONT)
style(axCr)
axCr.tick_params(axis='y', labelsize=20, pad=6)
axC.tick_params(axis='x', top=True, labeltop=False, pad=7)
axC.tick_params(axis='y', pad=7)
axC.set_xlabel('Energy (eV)', fontsize=15.5, labelpad=7)
axC.set_ylabel('Normalized Absorbance', fontsize=17, labelpad=20)

# Legend box
axL = fig.add_axes(box(1073, 933, 1465, 1361))
axL.set_xticks([]); axL.set_yticks([])
for s in axL.spines.values():
    s.set_linewidth(1.3); s.set_color('#333333')
for i, t in enumerate(legend_lines):
    fig.text(1084/W, 1 - (989 + i*83.3)/H, t, fontsize=21.5, family=LBLFONT, ha='left', va='center', color='#111111')

# Panel letters
fig.text(27/W, 1-22/H, '(A)', fontsize=22, fontweight='bold', ha='center', va='center')
fig.text(984/W, 1-22/H, '(B)', fontsize=22, fontweight='bold', ha='center', va='center')
fig.text(27/W, 1-932/H, '(C)', fontsize=22, fontweight='bold', ha='center', va='center')

fig.savefig('out.png', dpi=100)
